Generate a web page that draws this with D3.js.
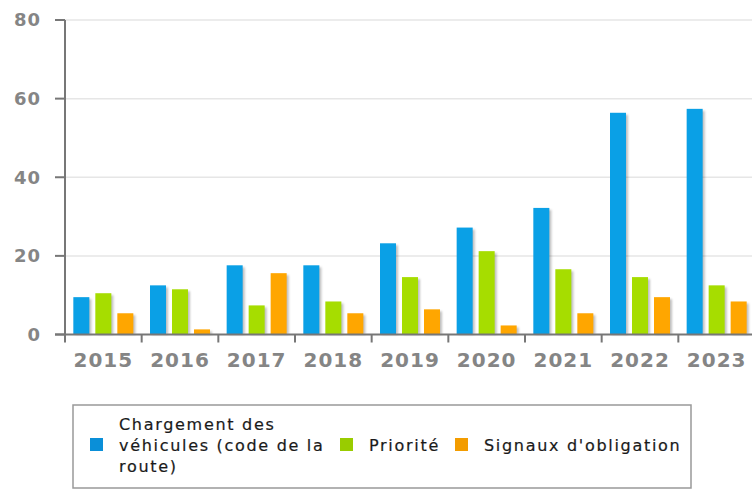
<!DOCTYPE html>
<html>
<head>
<meta charset="utf-8">
<script src="https://cdn.jsdelivr.net/npm/d3@7"></script>
<style>
  body { margin: 0; background: #fff; }
  svg { display: block; }
</style>
</head>
<body>
<div id="viz"></div>
<script>
const width = 752;
const height = 500;

// Data
const years = ["2015", "2016", "2017", "2018", "2019", "2020", "2021", "2022", "2023"];
const seriesNames = ["Chargement des véhicules (code de la route)", "Priorité", "Signaux d'obligation"];
const chargement = [9.5, 12.5, 17.6, 17.6, 23.2, 27.2, 32.2, 56.4, 57.4];
const priorite = [10.5, 11.5, 7.4, 8.4, 14.6, 21.2, 16.6, 14.6, 12.5];
const signaux = [5.4, 1.3, 15.6, 5.4, 6.4, 2.3, 5.4, 9.5, 8.4];
const yTicks = [0, 20, 40, 60, 80];
const colors = ["#0aa0e6", "#a6dd00", "#ffa600"];
const legendColors = ["#0a8fd8", "#99cc00", "#f39c00"];

const seriesValues = [chargement, priorite, signaux];

const x0 = 65, yZero = 334.5;

const svg = d3.select("#viz")
  .append("svg")
  .attr("width", width)
  .attr("height", height);

const x = d3.scaleBand()
  .domain(years)
  .range([x0, width + 3]);

const y = d3.scaleLinear()
  .domain([0, 80])
  .range([yZero, 20]);

// Gridlines
svg.append("g")
  .selectAll("line")
  .data(yTicks.filter(d => d > 0))
  .join("line")
  .attr("x1", x0)
  .attr("x2", width)
  .attr("y1", d => y(d))
  .attr("y2", d => y(d))
  .attr("stroke", "#e6e6e6")
  .attr("stroke-width", 1.5);

// Bars
const barW = 16, gap = 6;
const groupW = 3 * barW + 2 * gap;

const bars = [];
years.forEach((yr, i) => {
  seriesValues.forEach((vals, s) => {
    bars.push({ year: yr, s: s, value: vals[i] });
  });
});

const barX = d => x(d.year) + (x.bandwidth() - groupW) / 2 + d.s * (barW + gap);

// soft shadows
const defs = svg.append("defs");
defs.append("filter")
  .attr("id", "blur")
  .append("feGaussianBlur")
  .attr("stdDeviation", 0.8);

svg.append("g")
  .attr("filter", "url(#blur)")
  .selectAll("rect")
  .data(bars)
  .join("rect")
  .attr("x", d => barX(d) + 2)
  .attr("y", d => y(d.value) + 2)
  .attr("width", barW)
  .attr("height", d => yZero - y(d.value) - 2)
  .attr("fill", "rgba(0,0,0,0.25)");

svg.append("g")
  .selectAll("rect")
  .data(bars)
  .join("rect")
  .attr("x", barX)
  .attr("y", d => y(d.value))
  .attr("width", barW)
  .attr("height", d => yZero - y(d.value))
  .attr("fill", d => colors[d.s]);

// Y axis
const yAxis = svg.append("g");
yAxis.append("line")
  .attr("x1", x0).attr("x2", x0)
  .attr("y1", y(80)).attr("y2", yZero)
  .attr("stroke", "#777").attr("stroke-width", 2);

yAxis.selectAll("line.tick")
  .data(yTicks)
  .join("line")
  .attr("class", "tick")
  .attr("x1", 55).attr("x2", x0)
  .attr("y1", d => y(d)).attr("y2", d => y(d))
  .attr("stroke", "#777").attr("stroke-width", 2);

yAxis.selectAll("text")
  .data(yTicks)
  .join("text")
  .attr("x", 41)
  .attr("y", d => y(d))
  .attr("dy", "0.36em")
  .attr("text-anchor", "end")
  .attr("font-family", "DejaVu Sans")
  .attr("font-weight", "bold")
  .attr("font-size", "18px")
  .attr("letter-spacing", "1px")
  .attr("fill", "#858585")
  .text(d => d);

// X axis
const xAxis = svg.append("g");
xAxis.append("line")
  .attr("x1", 55).attr("x2", width)
  .attr("y1", yZero).attr("y2", yZero)
  .attr("stroke", "#777").attr("stroke-width", 2);

xAxis.selectAll("line.tick")
  .data(years)
  .join("line")
  .attr("class", "tick")
  .attr("x1", d => x(d)).attr("x2", d => x(d))
  .attr("y1", yZero).attr("y2", yZero + 8)
  .attr("stroke", "#777").attr("stroke-width", 2);

xAxis.selectAll("text")
  .data(years)
  .join("text")
  .attr("x", d => x(d) + x.bandwidth() / 2)
  .attr("y", 366.5)
  .attr("text-anchor", "middle")
  .attr("font-family", "DejaVu Sans")
  .attr("font-weight", "bold")
  .attr("font-size", "20px")
  .attr("letter-spacing", "1px")
  .attr("fill", "#858585")
  .text(d => d);

// Legend
const legend = svg.append("g");
legend.append("rect")
  .attr("x", 73).attr("y", 405)
  .attr("width", 618).attr("height", 83)
  .attr("fill", "#fff")
  .attr("stroke", "#999")
  .attr("stroke-width", 1.5);

const legendItems = [
  { sx: 90, tx: 119, lines: ["Chargement des", "véhicules (code de la", "route)"] },
  { sx: 340, tx: 369, lines: ["Priorité"] },
  { sx: 455, tx: 484, lines: ["Signaux d'obligation"] }
];

legendItems.forEach((item, i) => {
  legend.append("rect")
    .attr("x", item.sx).attr("y", 438)
    .attr("width", 13).attr("height", 13)
    .attr("fill", legendColors[i]);
  const t = legend.append("text")
    .attr("font-family", "DejaVu Sans")
    .attr("font-size", "16px")
    .attr("letter-spacing", "1.7px")
    .attr("fill", "#1a1a1a")
    .attr("stroke", "#1a1a1a")
    .attr("stroke-width", 0.2)
    .attr("aria-label", seriesNames[i]);
  const n = item.lines.length;
  item.lines.forEach((ln, k) => {
    t.append("tspan")
      .attr("x", item.tx)
      .attr("y", 445 + (k - (n - 1) / 2) * 21)
      .attr("dy", "0.36em")
      .text(ln);
  });
});
</script>
</body>
</html>
